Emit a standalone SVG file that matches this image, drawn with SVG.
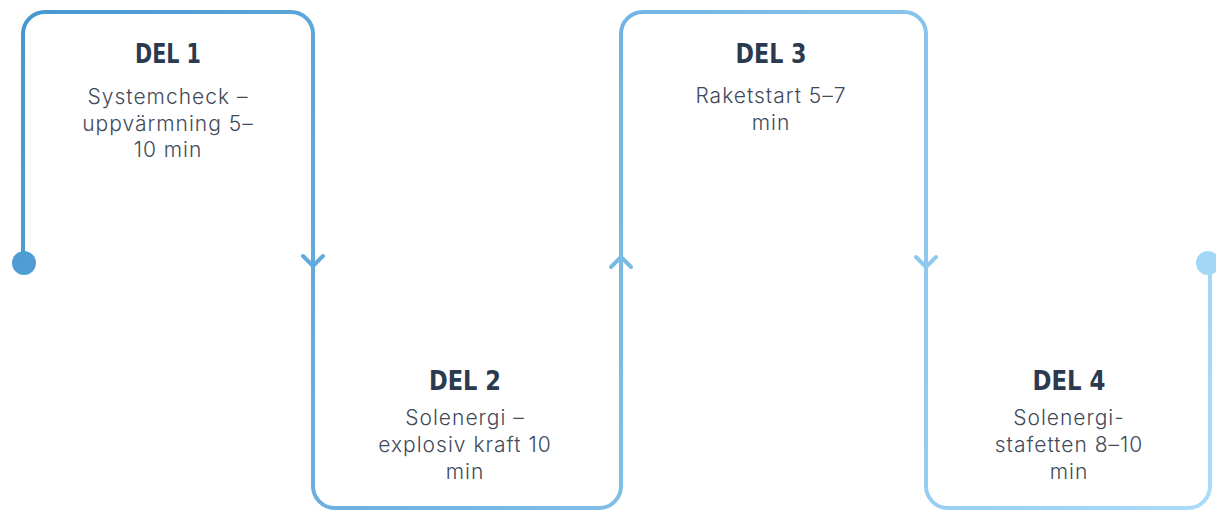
<svg xmlns="http://www.w3.org/2000/svg" width="1216" height="512" viewBox="0 0 1216 512">
  <defs>
    <linearGradient id="g" gradientUnits="userSpaceOnUse" x1="0" y1="0" x2="1216" y2="512">
      <stop offset="0" stop-color="#4596cf"/>
      <stop offset="1" stop-color="#abdcfa"/>
    </linearGradient>
    <style>
      .ln { fill: none; stroke: url(#g); stroke-width: 4; stroke-linecap: round; stroke-linejoin: round; }
      .dot { fill: url(#g); }
      .title { font-family: "DejaVu Sans Condensed", "DejaVu Sans", sans-serif; font-weight: bold; font-size: 27px; fill: #2b3a4f; text-anchor: middle; }
      .body { font-family: Inter, "Open Sans", sans-serif; font-weight: 300; font-size: 21px; letter-spacing: 1px; fill: #3f4a5a; text-anchor: middle; }
    </style>
  </defs>
  <rect width="1216" height="512" fill="#ffffff"/>
  <g id="connectors">
    <path class="ln" d="M23,263 V34 A22,22 0 0 1 45,12 H291 A22,22 0 0 1 313,34 V263"/>
    <path class="ln" d="M313,263 V486 A22,22 0 0 0 335,508 H599 A22,22 0 0 0 621,486 V263"/>
    <path class="ln" d="M621,263 V34 A22,22 0 0 1 643,12 H904 A22,22 0 0 1 926,34 V263"/>
    <path class="ln" d="M926,263 V486 A22,22 0 0 0 948,508 H1188 A22,22 0 0 0 1210,486 V263"/>
    <path class="ln" d="M303,256 L313,266 L323,256"/>
    <path class="ln" d="M611,267 L621,257 L631,267"/>
    <path class="ln" d="M916,257 L926,267 L936,257"/>
    <circle class="dot" cx="24" cy="263" r="12"/>
    <circle class="dot" cx="1208" cy="263" r="12"/>
  </g>
  <g id="del1">
    <text class="title" x="168" y="63" textLength="66" lengthAdjust="spacingAndGlyphs">DEL 1</text>
    <text class="body" x="168" y="104">Systemcheck –</text>
    <text class="body" x="168" y="130.5">uppvärmning 5–</text>
    <text class="body" x="168" y="157">10 min</text>
  </g>
  <g id="del2">
    <text class="title" x="465" y="390" textLength="72" lengthAdjust="spacingAndGlyphs">DEL 2</text>
    <text class="body" x="465" y="425">Solenergi –</text>
    <text class="body" x="465" y="452">explosiv kraft 10</text>
    <text class="body" x="465" y="479">min</text>
  </g>
  <g id="del3">
    <text class="title" x="771" y="63" textLength="71" lengthAdjust="spacingAndGlyphs">DEL 3</text>
    <text class="body" x="771" y="103">Raketstart 5–7</text>
    <text class="body" x="771" y="129.5">min</text>
  </g>
  <g id="del4">
    <text class="title" x="1069" y="390" textLength="73" lengthAdjust="spacingAndGlyphs">DEL 4</text>
    <text class="body" x="1069" y="425">Solenergi-</text>
    <text class="body" x="1069" y="452">stafetten 8–10</text>
    <text class="body" x="1069" y="479">min</text>
  </g>
</svg>
